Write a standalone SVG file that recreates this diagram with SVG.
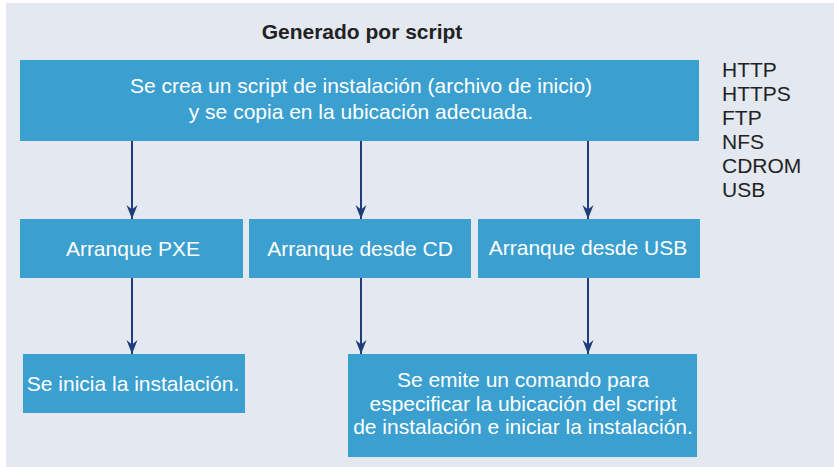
<svg xmlns="http://www.w3.org/2000/svg" width="834" height="467" viewBox="0 0 834 467">
<style>
.box{fill:#3b9fd0}
.t{font-family:"Liberation Sans",Arial,sans-serif;font-size:21px;fill:#ffffff;text-anchor:middle}
.side{font-family:"Liberation Sans",Arial,sans-serif;font-size:21px;fill:#222222}
.title{font-family:"Liberation Sans",Arial,sans-serif;font-size:21px;font-weight:bold;fill:#222222;text-anchor:middle}
.c{stroke:#1f3d7d;stroke-width:2;fill:none;marker-end:url(#ah)}
</style>
<defs>
<marker id="ah" markerUnits="userSpaceOnUse" markerWidth="16" markerHeight="14" viewBox="-15 -7 16 14" refX="0" refY="0" orient="auto">
<path d="M0,0 L-14,-5.5 L-9.5,0 L-14,5.5 Z" fill="#1f3d7d"/>
</marker>
</defs>
<rect x="6" y="3" width="828" height="464" fill="#e3e8f1"/>
<text class="title" x="362" y="39">Generado por script</text>
<g id="side-labels">
<text class="side" x="722" y="77">HTTP</text>
<text class="side" x="722" y="101">HTTPS</text>
<text class="side" x="722" y="125">FTP</text>
<text class="side" x="722" y="149">NFS</text>
<text class="side" x="722" y="173">CDROM</text>
<text class="side" x="722" y="197">USB</text>
</g>
<g id="connectors">
<line class="c" x1="132" y1="141" x2="132" y2="219"/>
<line class="c" x1="361" y1="141" x2="361" y2="219"/>
<line class="c" x1="588" y1="141" x2="588" y2="219"/>
<line class="c" x1="132" y1="278" x2="132" y2="354"/>
<line class="c" x1="361" y1="278" x2="361" y2="354"/>
<line class="c" x1="588" y1="278" x2="588" y2="354"/>
</g>
<g id="top">
<rect class="box" x="20" y="60" width="679" height="81"/>
<text class="t" x="361" y="93">Se crea un script de instalación (archivo de inicio)</text>
<text class="t" x="361" y="119">y se copia en la ubicación adecuada.</text>
</g>
<g id="pxe">
<rect class="box" x="20" y="219" width="223" height="59"/>
<text class="t" x="133" y="256">Arranque PXE</text>
</g>
<g id="cd">
<rect class="box" x="249" y="219" width="222" height="59"/>
<text class="t" x="360" y="256">Arranque desde CD</text>
</g>
<g id="usb">
<rect class="box" x="478" y="219" width="222" height="59"/>
<text class="t" x="588" y="255">Arranque desde USB</text>
</g>
<g id="inicia">
<rect class="box" x="23" y="354" width="222" height="59"/>
<text class="t" x="133" y="391">Se inicia la instalación.</text>
</g>
<g id="comando">
<rect class="box" x="348" y="354" width="349" height="103"/>
<text class="t" x="523" y="387">Se emite un comando para</text>
<text class="t" x="523" y="411">especificar la ubicación del script</text>
<text class="t" x="523" y="434">de instalación e iniciar la instalación.</text>
</g>
</svg>
